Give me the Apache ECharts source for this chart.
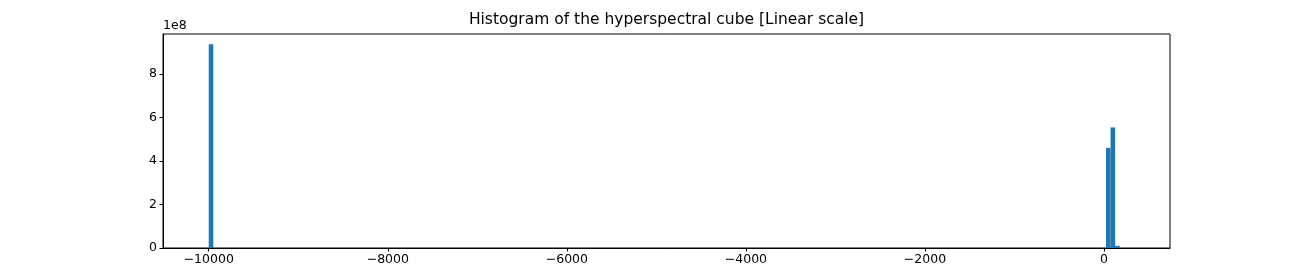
<!DOCTYPE html>
<html>
<head>
<meta charset="utf-8">
<script src="https://cdn.jsdelivr.net/npm/echarts@6/dist/echarts.min.js"></script>
<style>html,body{margin:0;padding:0;background:#fff}#c{width:1300px;height:279px}</style>
</head>
<body>
<div id="c"></div>
<script>
// Histogram bins (left edges, in data units) and counts
const binLeft = [-10000, 22, 73, 124];
const binWidth = 51.13;
const counts = [9.38e8, 4.61e8, 5.55e8, 1.0e7];
const xTicks = [-10000, -8000, -6000, -4000, -2000, 0];
const yTicks = [0, 2e8, 4e8, 6e8, 8e8];
const titleText = 'Histogram of the hyperspectral cube [Linear scale]';
const yOffsetText = '1e8';

const data = binLeft.map((l, i) => [l, l + binWidth, counts[i]]);
const font = 'DejaVu Sans';
const chart = echarts.init(document.getElementById('c'), null, {renderer: 'canvas'});
chart.setOption({
  animation: false,
  backgroundColor: '#fff',
  grid: {left: 163, top: 34, right: 130, bottom: 31, show: true, borderColor: '#000', borderWidth: 1, backgroundColor: 'transparent'},
  xAxis: {
    type: 'value', min: -10511, max: 737,
    splitLine: {show: false},
    axisLine: {show: true, onZero: false, lineStyle: {color: '#000', width: 1}},
    axisTick: {show: true, length: 3.5, customValues: xTicks, lineStyle: {color: '#000'}},
    axisLabel: {customValues: xTicks, color: '#000', fontFamily: font, fontSize: 12.5, margin: 5,
      formatter: v => (v < 0 ? '\u2212' + Math.abs(v) : String(v))}
  },
  yAxis: {
    type: 'value', min: 0, max: 9.85e8, position: 'left',
    splitLine: {show: false},
    axisLine: {show: true, onZero: false, lineStyle: {color: '#000', width: 1}},
    axisTick: {show: true, length: 3.5, customValues: yTicks, lineStyle: {color: '#000'}},
    axisLabel: {customValues: yTicks, color: '#000', fontFamily: font, fontSize: 12.5, margin: 6,
      formatter: v => String(Math.round(v / 1e8))}
  },
  graphic: [
    {type: 'text', x: 666.5, y: 12, style: {text: titleText, font: '15.5px "DejaVu Sans"', fill: '#000', textAlign: 'center', textVerticalAlign: 'top'}},
    {type: 'text', x: 163, y: 19, style: {text: yOffsetText, font: '12.5px "DejaVu Sans"', fill: '#000', textAlign: 'left', textVerticalAlign: 'top'}}
  ],
  series: [{
    type: 'custom',
    data: data,
    encode: {x: [0, 1], y: 2},
    clip: true,
    renderItem: function (params, api) {
      const p0 = api.coord([api.value(0), api.value(2)]);
      const p1 = api.coord([api.value(1), 0]);
      return {type: 'rect', shape: {x: p0[0], y: p0[1], width: p1[0] - p0[0], height: p1[1] - p0[1]},
        style: {fill: '#1f77b4', stroke: 'none', lineWidth: 0}};
    }
  }]
});
</script>
</body>
</html>
